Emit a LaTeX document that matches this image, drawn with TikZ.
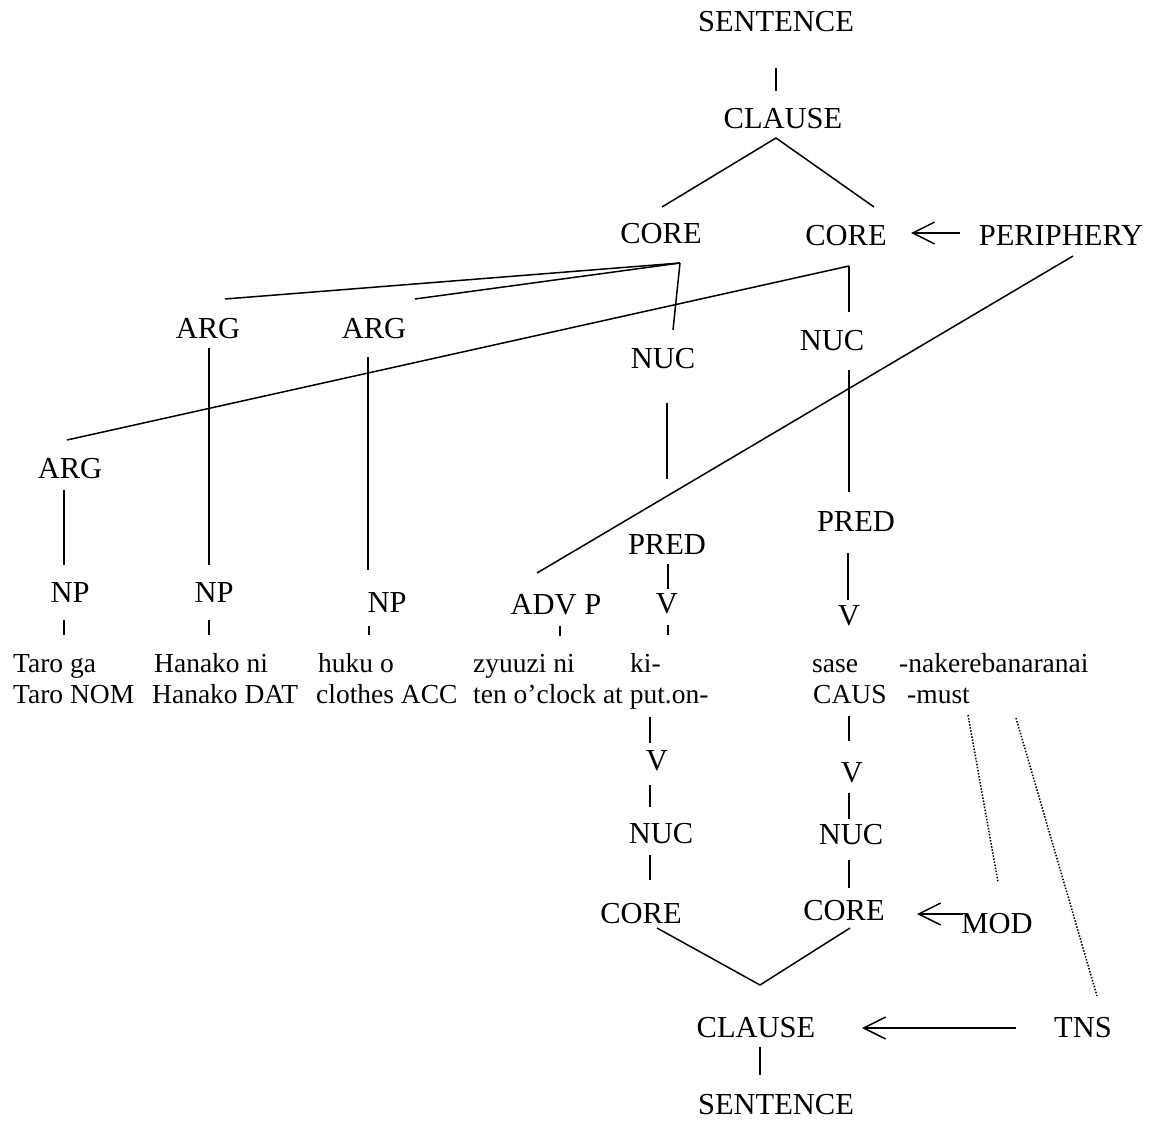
\documentclass[tikz,border=0pt]{standalone}
\usepackage{fontspec}
\setmainfont{Liberation Serif}
\usetikzlibrary{arrows.meta}
\tikzset{
  lab/.style={inner sep=0pt, anchor=base, font=\fontsize{30.5}{32}\selectfont},
  word/.style={inner sep=0pt, anchor=base west, font=\fontsize{27.5}{30}\selectfont},
  branch/.style={line width=1.5pt},
  dotline/.style={line width=1.5pt, dash pattern=on 1.5pt off 1.6pt},
  arr/.style={line width=1.5pt, -{Straight Barb[length=22pt,width=22pt]}}
}
\begin{document}
\begin{tikzpicture}[x=1pt,y=-1pt]
\useasboundingbox (0,0) rectangle (1160,1121);
% ---------- upper tree labels
\node[lab] (sentT) at (776,32) {SENTENCE};
\node[lab] (clauseT) at (783,129) {CLAUSE};
\node[lab] (coreL) at (661,243) {CORE};
\node[lab] (coreR) at (846,245) {CORE};
\node[lab] (periph) at (1061,245) {PERIPHERY};
\node[lab] (arg1) at (208,338) {ARG};
\node[lab] (arg2) at (374,338) {ARG};
\node[lab] (nucL) at (663,368) {NUC};
\node[lab] (nucR) at (832,350) {NUC};
\node[lab] (arg3) at (70,478) {ARG};
\node[lab] (predL) at (667,554) {PRED};
\node[lab] (predR) at (856,531) {PRED};
\node[lab] (np1) at (70,602) {NP};
\node[lab] (np2) at (214,602) {NP};
\node[lab] (np3) at (387,612) {NP};
\node[lab] (advp) at (556,614) {ADV P};
\node[lab] (vL) at (667,613) {V};
\node[lab] (vR) at (849,625) {V};
% ---------- words
\node[word] (w1a) at (13,672) {Taro ga};
\node[word] (w2a) at (154,672) {Hanako ni};
\node[word] (w3a) at (318,672) {huku o};
\node[word] (w4a) at (473,672) {zyuuzi ni};
\node[word] (w5a) at (630,672) {ki-};
\node[word] (w6a) at (812,672) {sase};
\node[word] (w7a) at (899,672) {-nakerebanaranai};
\node[word] (w1b) at (13,703) {Taro NOM};
\node[word] (w2b) at (152,703) {Hanako DAT};
\node[word] (w3b) at (316,703) {clothes ACC};
\node[word] (w4b) at (473,703) {ten o’clock at put.on-};
\node[word] (w6b) at (813,703) {CAUS};
\node[word] (w7b) at (907,703) {-must};
% ---------- lower tree labels
\node[lab] (vL2) at (657,770) {V};
\node[lab] (nucL2) at (661,843) {NUC};
\node[lab] (coreL2) at (641,923) {CORE};
\node[lab] (vR2) at (852,782) {V};
\node[lab] (nucR2) at (851,844) {NUC};
\node[lab] (coreR2) at (844,920) {CORE};
\node[lab] (mod) at (997,933) {MOD};
\node[lab] (clauseB) at (756,1037) {CLAUSE};
\node[lab] (tns) at (1083,1037) {TNS};
\node[lab] (sentB) at (776,1114) {SENTENCE};
% ---------- connector end points
\coordinate (sT1) at (776,68);  \coordinate (sT2) at (776,91);
\coordinate (cT) at (776,138);  \coordinate (cTl) at (662,207); \coordinate (cTr) at (874,207);
\coordinate (pA1) at (960,233); \coordinate (pA2) at (911,233);
\coordinate (cL) at (680,263);  \coordinate (cLa1) at (225,299); \coordinate (cLa2) at (415,299); \coordinate (cLn) at (673,330);
\coordinate (cR) at (849,266);  \coordinate (cRa3) at (67,440); \coordinate (cRn) at (849,312);
\coordinate (pP1) at (1073,256); \coordinate (pP2) at (537,573);
\coordinate (a1t) at (209,348); \coordinate (a1b) at (209,565);
\coordinate (a2t) at (368,357); \coordinate (a2b) at (368,570);
\coordinate (nLt) at (667,403); \coordinate (nLb) at (667,479);
\coordinate (nRt) at (849,370); \coordinate (nRb) at (849,492);
\coordinate (a3t) at (64,490);  \coordinate (a3b) at (64,565);
\coordinate (pLt) at (668,564); \coordinate (pLb) at (668,589);
\coordinate (pRt) at (848,553); \coordinate (pRb) at (848,600);
\coordinate (t1a) at (64,620);  \coordinate (t1b) at (64,635);
\coordinate (t2a) at (209,620); \coordinate (t2b) at (209,635);
\coordinate (t3a) at (369,626); \coordinate (t3b) at (369,635);
\coordinate (t4a) at (560,626); \coordinate (t4b) at (560,636);
\coordinate (t5a) at (668,625); \coordinate (t5b) at (668,635);
\coordinate (l1a) at (650,717); \coordinate (l1b) at (650,743);
\coordinate (l2a) at (650,785); \coordinate (l2b) at (650,807);
\coordinate (l3a) at (650,855); \coordinate (l3b) at (650,880);
\coordinate (r1a) at (849,716); \coordinate (r1b) at (849,741);
\coordinate (r2a) at (849,793); \coordinate (r2b) at (849,819);
\coordinate (r3a) at (849,860); \coordinate (r3b) at (849,888);
\coordinate (vl) at (657,928); \coordinate (vr) at (850,928); \coordinate (vb) at (760,985);
\coordinate (mA1) at (963,914); \coordinate (mA2) at (917,914);
\coordinate (d1a) at (968,715); \coordinate (d1b) at (998,882);
\coordinate (d2a) at (1016,718); \coordinate (d2b) at (1097,996);
\coordinate (tA1) at (1016,1028); \coordinate (tA2) at (862,1028);
\coordinate (cBa) at (760,1047); \coordinate (cBb) at (760,1075);
% ---------- connectors
\draw[branch] (sT1) -- (sT2);
\draw[branch] (cTl) -- (cT) -- (cTr);
\draw[arr] (pA1) -- (pA2);
\draw[branch] (cL) -- (cLa1);
\draw[branch] (cL) -- (cLa2);
\draw[branch] (cL) -- (cLn);
\draw[branch] (cR) -- (cRa3);
\draw[branch] (cR) -- (cRn);
\draw[branch] (pP1) -- (pP2);
\draw[branch] (a1t) -- (a1b);
\draw[branch] (a2t) -- (a2b);
\draw[branch] (nLt) -- (nLb);
\draw[branch] (nRt) -- (nRb);
\draw[branch] (a3t) -- (a3b);
\draw[branch] (pLt) -- (pLb);
\draw[branch] (pRt) -- (pRb);
\draw[branch] (t1a) -- (t1b);
\draw[branch] (t2a) -- (t2b);
\draw[branch] (t3a) -- (t3b);
\draw[branch] (t4a) -- (t4b);
\draw[branch] (t5a) -- (t5b);
\draw[branch] (l1a) -- (l1b);
\draw[branch] (l2a) -- (l2b);
\draw[branch] (l3a) -- (l3b);
\draw[branch] (r1a) -- (r1b);
\draw[branch] (r2a) -- (r2b);
\draw[branch] (r3a) -- (r3b);
\draw[branch] (vl) -- (vb) -- (vr);
\draw[arr] (mA1) -- (mA2);
\draw[dotline] (d1a) -- (d1b);
\draw[dotline] (d2a) -- (d2b);
\draw[arr] (tA1) -- (tA2);
\draw[branch] (cBa) -- (cBb);
\end{tikzpicture}
\end{document}
